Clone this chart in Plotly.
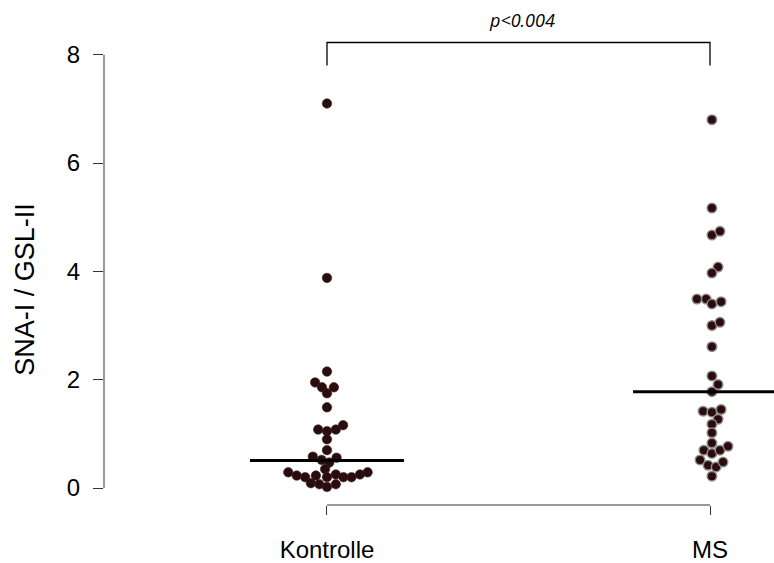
import plotly.graph_objects as go

# Groups and their positions on the x axis
groups = ["Kontrolle", "MS"]
group_pos = [1, 2]

# SNA-I / GSL-II ratios per subject, with the beeswarm offset of each dot
kontrolle_values = [7.10, 3.88, 2.15, 1.95, 1.86, 1.86, 1.75, 1.49, 1.08, 1.05, 1.08,
                    1.16, 0.90, 0.70, 0.58, 0.52, 0.47, 0.56, 0.35, 0.29, 0.23, 0.20,
                    0.23, 0.20, 0.25, 0.20, 0.20, 0.25, 0.29, 0.09, 0.07, 0.02, 0.07]
kontrolle_offsets = [0, 0, 0, -0.031, -0.013, 0.018, 0, 0, -0.023, 0, 0.023,
                     0.042, 0, 0, -0.037, -0.014, 0.006, 0.025, -0.005, -0.101, -0.079, -0.057,
                     -0.029, 0, 0.023, 0.043, 0.064, 0.086, 0.106, -0.042, -0.020, 0, 0.023]

ms_values = [6.80, 5.17, 4.67, 4.74, 4.08, 3.97, 3.49, 3.49, 3.40, 3.44, 3.00,
             3.06, 2.61, 2.07, 1.91, 1.78, 1.42, 1.40, 1.45, 1.27, 1.18, 1.02,
             0.83, 0.70, 0.64, 0.70, 0.77, 0.52, 0.42, 0.39, 0.48, 0.22]
ms_offsets = [0.005, 0.005, 0.005, 0.026, 0.021, 0.005, -0.034, -0.010, 0.005, 0.029, 0.005,
              0.026, 0.005, 0.005, 0.021, 0.005, -0.018, 0.005, 0.029, 0.021, 0.005, 0.005,
              0.005, -0.016, 0.005, 0.026, 0.047, -0.026, -0.005, 0.016, 0.034, 0.005]

# Group medians (horizontal bars)
medians = [0.51, 1.78]

y_ticks = [0, 2, 4, 6, 8]
y_title = "SNA-I / GSL-II"
p_label = "p<0.004"

FONT = "Liberation Sans, Arial, Helvetica, sans-serif"
DOT = "#2b0b0d"

fig = go.Figure()

fig.add_trace(go.Scatter(
    x=[group_pos[0] + o for o in kontrolle_offsets], y=kontrolle_values,
    mode="markers", name=groups[0], hoverinfo="y",
    marker=dict(size=9.5, color=DOT, line=dict(color="#3a2a2a", width=0.6)),
))
fig.add_trace(go.Scatter(
    x=[group_pos[1] + o for o in ms_offsets], y=ms_values,
    mode="markers", name=groups[1], hoverinfo="y",
    marker=dict(size=9.5, color=DOT, line=dict(color="#8c8c8c", width=1.5)),
))

# Median bars
half = 0.201
for pos, med in zip(group_pos, medians):
    fig.add_shape(type="line", xref="x", yref="y",
                  x0=pos - half, x1=pos + half, y0=med, y1=med,
                  line=dict(color="black", width=3))

# Axis lines limited to the data span (R-style)
fig.add_shape(type="line", xref="paper", yref="y", x0=0, x1=0,
              y0=y_ticks[0], y1=y_ticks[-1], line=dict(color="#333", width=1))
fig.add_shape(type="line", xref="x", yref="paper", x0=group_pos[0], x1=group_pos[1],
              y0=0, y1=0, line=dict(color="#333", width=1))

# Significance bracket
br_top, br_end = 8.226, 7.80
fig.add_shape(type="path", xref="x", yref="y",
              path=f"M {group_pos[0]},{br_end} L {group_pos[0]},{br_top} "
                   f"L {group_pos[1]},{br_top} L {group_pos[1]},{br_end}",
              line=dict(color="black", width=1.3))
fig.add_annotation(x=sum(group_pos) / 2 + 0.01, y=8.64, xref="x", yref="y",
                   text=f"<i>{p_label}</i>", showarrow=False,
                   font=dict(family="Open Sans, DejaVu Sans, sans-serif", size=18, color="black"))

# Y axis title
fig.add_annotation(x=-0.118, y=3.68, xref="paper", yref="y", text=y_title,
                   textangle=-90, showarrow=False, xanchor="center", yanchor="middle",
                   font=dict(family=FONT, size=27, color="black"))

fig.update_layout(
    width=774, height=563,
    margin=dict(l=104, r=0, t=0, b=56),
    paper_bgcolor="white", plot_bgcolor="white",
    showlegend=False,
    font=dict(family=FONT, size=24, color="black"),
)
fig.update_xaxes(range=[0.4178, 2.1671], tickvals=group_pos, ticktext=groups,
                 ticks="outside", ticklen=9, tickcolor="#333", tickwidth=1,
                 ticklabelstandoff=14,
                 showgrid=False, zeroline=False, showline=False)
fig.update_yaxes(range=[-0.313, 9.011], tickvals=y_ticks,
                 ticks="outside", ticklen=10, tickcolor="#333", tickwidth=1,
                 ticklabelstandoff=8,
                 showgrid=False, zeroline=False, showline=False)

fig.write_html("out.html")
